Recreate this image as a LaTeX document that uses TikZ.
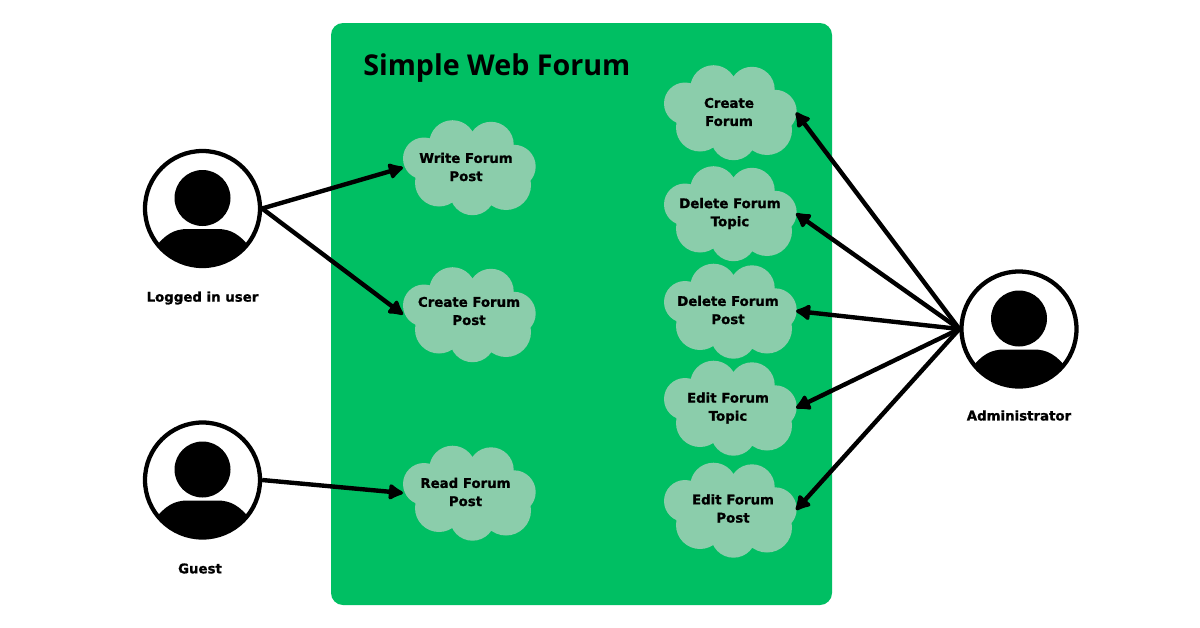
\documentclass[tikz,border=0pt]{standalone}
\usepackage{fontspec}
\setmainfont[BoldFeatures={FakeBold=1.2}]{DejaVu Sans}
\newfontfamily\titlefont{Open Sans}
\usetikzlibrary{arrows.meta}

\definecolor{forumgreen}{HTML}{00BF63}
\definecolor{cloudgreen}{HTML}{8BCDAB}

% person in a ring: name, x, y
\newcommand{\actor}[3]{
 \node[actorring] (#1) at (#2,#3) {};
 \begin{scope}[shift={(#2,#3)}]
  \fill (0,-10.5) circle (28);
  \clip (0,0) circle (57.5);
  \fill (-48,40) .. controls (-38,26) and (-28,20.5) .. (-15,20.5) -- (15,20.5) .. controls (28,20.5) and (38,26) .. (48,40) -- (48,60) -- (-48,60) -- cycle;
 \end{scope}
}

% cloud: name, x, y, text x, text y, text
\newcommand{\usecase}[6]{
 \begin{scope}[shift={(#2,#3)}]
  \fill[cloudgreen] (-16.5,-24) circle (23.3) (22,-23) circle (22.7) (-45,-9) circle (21) (45,-1) circle (21.7)
   (-30,15) circle (24) (3.5,25) circle (22.7) (37,17.5) circle (25) (0,0) ellipse (42 and 28);
 \end{scope}
 \node[usecasebox] (#1) at (#2,#3) {};
 \node[usecasetext] (#1text) at (#4,#5) {#6};
}

\begin{document}
\begin{tikzpicture}[
 x=0.75pt, y=-0.75pt,
 actorring/.style={draw, circle, line width=3.2pt, minimum size=86.25pt, inner sep=0pt},
 usecasebox/.style={rectangle, minimum width=99pt, minimum height=71pt, inner sep=0pt, outer sep=0pt},
 usecasetext/.style={align=center, font=\bfseries\fontsize{10}{13.6}\selectfont},
 actorname/.style={font=\bfseries\fontsize{10}{12}\selectfont},
 arrow/.style={-{Latex[length=13pt,width=14.5pt,round]}, line width=3.3pt}
]
\useasboundingbox (0,0) rectangle (1200,628);
\fill[white] (0,0) rectangle (1200,628);

% forum box
\node[draw=none, fill=forumgreen, rectangle, rounded corners=9pt, minimum width=375.75pt, minimum height=436.5pt, inner sep=0pt] (forum) at (581.5,314) {};
\node[anchor=west, inner sep=0pt, font=\titlefont\bfseries\fontsize{21.5}{24}\selectfont] (title) at (363,68) {Simple Web Forum};

% actors
\actor{logged}{202.5}{208.5}
\actor{guest}{202.5}{480}
\actor{admin}{1019}{329}
\node[actorname] (loggedname) at (202.5,298) {Logged in user};
\node[actorname] (guestname) at (200,568.5) {Guest};
\node[actorname] (adminname) at (1019,415.5) {Administrator};

% left clouds
\usecase{write}{469}{167.5}{466}{167}{Write Forum\\Post}
\usecase{createpost}{469}{314.5}{469}{311}{Create Forum\\Post}
\usecase{read}{469}{493}{465.5}{492}{Read Forum\\Post}

% right clouds
\usecase{createforum}{730}{112.5}{729}{112}{Create\\Forum}
\usecase{deletetopic}{730}{213.5}{730}{213.5}{Delete Forum\\Topic}
\usecase{deletepost}{730}{311}{728}{310}{Delete Forum\\Post}
\usecase{edittopic}{730}{408}{728}{408}{Edit Forum\\Topic}
\usecase{editpost}{730}{510}{733}{508.5}{Edit Forum\\Post}

% arrows
\draw[arrow] (logged.east) -- (write.west);
\draw[arrow] (logged.east) -- (createpost.west);
\draw[arrow] (guest.east) -- (read.west);
\draw[arrow] (admin.west) -- (createforum.east);
\draw[arrow] (admin.west) -- (deletetopic.east);
\draw[arrow] (admin.west) -- (deletepost.east);
\draw[arrow] (admin.west) -- (edittopic.east);
\draw[arrow] (admin.west) -- (editpost.east);

\end{tikzpicture}
\end{document}
